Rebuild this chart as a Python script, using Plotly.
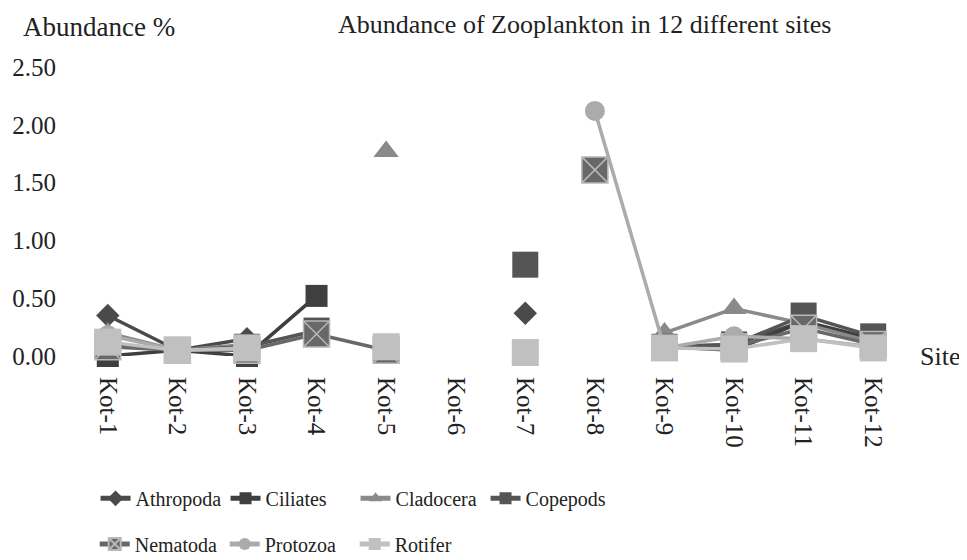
import plotly.graph_objects as go

sites = ["Kot-1", "Kot-2", "Kot-3", "Kot-4", "Kot-5", "Kot-6",
         "Kot-7", "Kot-8", "Kot-9", "Kot-10", "Kot-11", "Kot-12"]

athropoda = [0.35, 0.05, 0.15, None, None, None, 0.37, None, 0.08, 0.10, 0.30, 0.12]
ciliates  = [0.00, 0.05, 0.00, 0.52, None, None, None, None, 0.08, 0.05, 0.30, 0.15]
cladocera = [0.20, 0.05, 0.10, None, 1.77, None, None, None, 0.20, 0.41, 0.28, 0.12]
copepods  = [0.10, 0.05, 0.08, 0.22, None, None, 0.79, None, 0.08, 0.10, 0.35, 0.17]
nematoda  = [0.08, 0.05, 0.05, 0.19, 0.05, None, None, 1.61, None, 0.08, 0.24, 0.10]
protozoa  = [0.18, 0.05, 0.06, None, None, None, None, 2.12, 0.07, 0.17, 0.15, 0.08]
rotifer   = [0.12, 0.05, 0.07, None, 0.08, None, 0.03, None, 0.07, 0.06, 0.15, 0.07]

y_ticks = [0.0, 0.5, 1.0, 1.5, 2.0, 2.5]

FONT = "Liberation Serif"

series = [
    ("Athropoda", athropoda, "#4a4a4a", "diamond", 18, None, "legend"),
    ("Ciliates", ciliates, "#3f3f3f", "square", 22, None, "legend"),
    ("Cladocera", cladocera, "#8a8a8a", "triangle-up", 22, None, "legend"),
    ("Copepods", copepods, "#555555", "square", 26, None, "legend"),
    ("Nematoda", nematoda, "#686868", "square-x", 26, "#b8b8b8", "legend2"),
    ("Protozoa", protozoa, "#ababab", "circle", 20, None, "legend2"),
    ("Rotifer", rotifer, "#c0c0c0", "square", 27, None, "legend2"),
]

fig = go.Figure()
for name, vals, color, sym, size, lcol, leg in series:
    marker = dict(symbol=sym, size=size, color=color)
    if lcol:
        marker["line"] = dict(color=lcol, width=1.5)
    else:
        marker["line"] = dict(width=0)
    fig.add_trace(go.Scatter(
        x=sites, y=vals, name=name, mode="lines+markers",
        line=dict(color=color, width=3.5), marker=marker,
        connectgaps=False, cliponaxis=False, legend=leg,
    ))

legend_common = dict(
    orientation="h", xanchor="left", yanchor="top",
    font=dict(family=FONT, size=20, color="#222"),
    itemsizing="constant", entrywidth=85, bgcolor="rgba(0,0,0,0)",
    tracegroupgap=0,
)

# the page adds an 8px body margin, so the figure is 8px smaller than the window
fig.update_layout(
    width=959, height=552,
    margin=dict(l=65, r=59, t=59, b=204, autoexpand=False),
    paper_bgcolor="white", plot_bgcolor="white",
    showlegend=True,
    legend=dict(x=0.027, y=-0.425, **legend_common),
    legend2=dict(x=0.026, y=-0.583, **legend_common),
    xaxis=dict(
        type="category", range=[-0.5, 11.5], showgrid=False, showline=False,
        zeroline=False, ticks="", tickangle=90, automargin=False,
        ticklabelstandoff=20,
        tickfont=dict(family=FONT, size=25, color="#222"),
    ),
    yaxis=dict(
        range=[0, 2.5], tickvals=y_ticks, tickformat=".2f", showgrid=False,
        showline=False, zeroline=False, ticks="", automargin=False,
        ticklabelstandoff=16,
        tickfont=dict(family=FONT, size=25, color="#222"),
    ),
    annotations=[
        dict(text="Abundance of Zooplankton in 12 different sites",
             xref="paper", yref="paper", x=0.613, y=1.148, showarrow=False,
             yanchor="middle",
             font=dict(family=FONT, size=26, color="#222")),
        dict(text="Abundance %", xref="paper", yref="paper", x=-0.062, y=1.14,
             xanchor="left", yanchor="middle", showarrow=False,
             font=dict(family=FONT, size=27, color="#222")),
        dict(text="Site", xref="paper", yref="paper", x=1.012, y=0.0,
             xanchor="left", yanchor="middle", showarrow=False,
             font=dict(family=FONT, size=26, color="#222")),
    ],
)

fig.write_html("out.html")
